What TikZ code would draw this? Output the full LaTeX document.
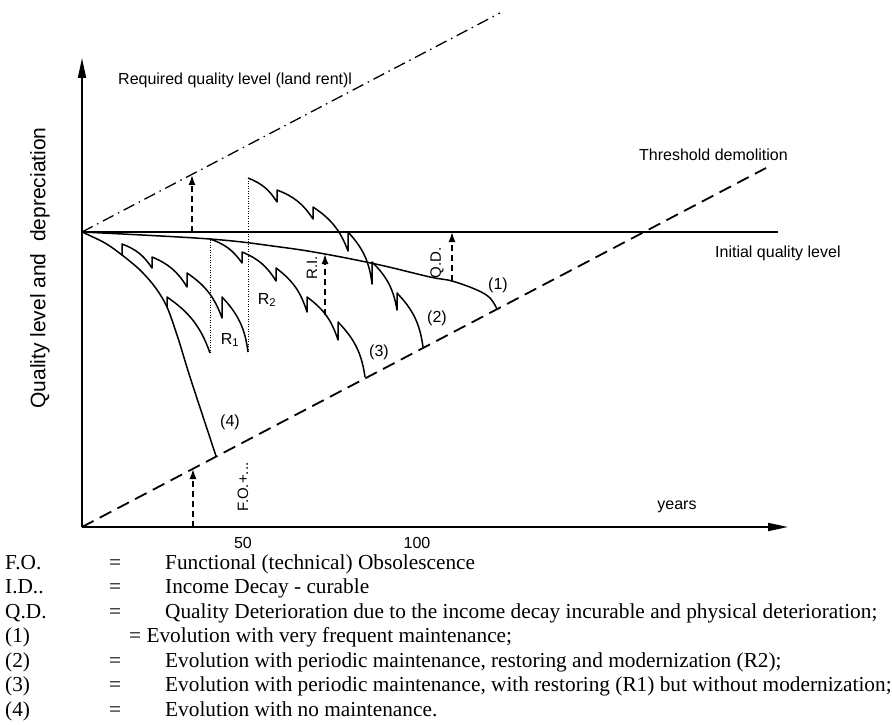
\documentclass[tikz,border=0pt]{standalone}
\usepackage{fontspec}
\setmainfont{Liberation Serif}
\setsansfont{Liberation Sans}
\usetikzlibrary{arrows.meta}

\begin{document}
\begin{tikzpicture}[
    x=1pt, y=1pt,
    font=\sffamily\fontsize{16}{18}\selectfont,
    >={Latex[length=10pt,width=7pt]},
    axis/.style={
        line width=1.8pt,
        -{Triangle[length=20pt,width=8pt]}
    },
    curve/.style={
        line width=1.5pt,
        line join=round
    },
    saw/.style={bend left=18},
    level/.style={line width=1.4pt},
    threshold/.style={
        line width=1.8pt,
        dash pattern=on 13pt off 7pt
    },
    required/.style={
        line width=1.3pt,
        dash pattern=on 12pt off 5pt on 1.5pt off 5pt
    },
    gap/.style={
        ->,
        line width=1.5pt,
        dash pattern=on 6pt off 4pt
    },
    restore/.style={
        line width=0.9pt,
        dash pattern=on 1pt off 1.5pt
    },
    small/.style={font=\sffamily\fontsize{15}{15}\selectfont},
    legend/.style={
        font=\rmfamily\fontsize{21.3}{24}\selectfont,
        anchor=base west,
        inner sep=0pt
    }
]
\useasboundingbox (-82,-197) rectangle (810,527);

% =========================================================
% axes and reference lines
% =========================================================
\coordinate (O) at (0,0);
\coordinate (Q0) at (0,295);
\draw[axis] (O) -- (0,469) coordinate (ytop);
\draw[axis] (O) -- (706,0) coordinate (xend);

\draw[level] (Q0) -- (696,295) coordinate (qend);
\draw[required] (Q0) -- (418,514) coordinate (reqend);
\draw[threshold] (O) -- (684,359) coordinate (thrend);

\node[anchor=west, inner sep=0pt] (reqlbl) at (36,447) {Required quality level (land rent)l};
\node[anchor=west, inner sep=0pt] (thrlbl) at (557,372) {Threshold demolition};
\node[anchor=west, inner sep=0pt] (inilbl) at (633,274) {Initial quality level};

\node[font=\sffamily\fontsize{21}{21}\selectfont, rotate=90] (ylbl) at (-42,259) {Quality level and \ depreciation};
\node (years) at (595,20) {years};
\node[inner sep=0pt] (t50) at (161,-16) {50};
\node[inner sep=0pt] (t100) at (335,-16) {100};

% =========================================================
% evolution curves
% =========================================================
% (1) very frequent maintenance
\draw[curve] plot[smooth, tension=0.6] coordinates {(0,295) (128,288) (198,280) (243,273) (298,262) (348,250) (370,246) (395,237) (408,229) (415,218)};

% (4) no maintenance
\draw[curve] plot[smooth] coordinates {(0,295) (23,284) (40,272) (58,257) (73,240) (85,220) (96,189) (108,150) (134,71)};

% (2) periodic maintenance, restoring R2 with modernization
\draw[curve] (40,272) -- (40,283) to[saw] (70,259) -- (70,270) to[saw] (105,240)
    -- (105,254) to[saw] (140,209) -- (140,230) to[saw] (166,175) coordinate (r2low);
\draw[restore] (r2low) -- (166,349) coordinate (r2top);
\draw[curve] (r2top) to[saw] (195,325) -- (195,337) to[saw] (231,308) -- (231,320) to[saw] (266,276)
    -- (266,295) to[saw] (290,243) -- (290,265) to[saw] (315,217) -- (315,234) to[saw] (341,180);

% (3) periodic maintenance, restoring R1 without modernization
\draw[curve] (85,220) -- (85,230) to[saw] (128,174) coordinate (r1low);
\draw[restore] (r1low) -- (128,288) coordinate (r1top);
\draw[curve] (r1top) to[saw] (160,264) -- (160,275) to[saw] (194,246) -- (194,259) to[saw] (225,215)
    -- (225,230) to[saw] (256,187) -- (256,205) to[saw] (283,150);

% gaps between levels
\draw[gap] (110,295) -- (110,352);
\draw[gap] (111,0) -- (111,58);
\draw[gap] (243,212) -- (243,273);
\draw[gap] (370,246) -- (370,295);

% curve labels
\node (lr1) at (148,187) {R\textsubscript{1}};
\node (lr2) at (185,227) {R\textsubscript{2}};
\node (l1) at (416,242) {(1)};
\node (l2) at (355,209) {(2)};
\node (l3) at (297,175) {(3)};
\node (l4) at (148,105) {(4)};
\node[small, rotate=90] (lqd) at (355,264) {Q.D.};
\node[small, rotate=90] (lri) at (230,259) {R.I.};
\node[small, rotate=90] (lfo) at (161,40) {F.O.+...};

% =========================================================
% legend
% =========================================================
\node[legend] (k1) at (-77,-42) {F.O.};
\node[legend] (e1) at (27,-42) {=};
\node[legend] (d1) at (83,-42) {Functional (technical) Obsolescence};

\node[legend] (k2) at (-77,-66.5) {I.D..};
\node[legend] (e2) at (27,-66.5) {=};
\node[legend] (d2) at (83,-66.5) {Income Decay - curable};

\node[legend] (k3) at (-77,-91) {Q.D.};
\node[legend] (e3) at (27,-91) {=};
\node[legend] (d3) at (83,-91) {Quality Deterioration due to the income decay incurable and physical deterioration;};

\node[legend] (k4) at (-77,-115.5) {(1)};
\node[legend] (d4) at (47,-115.5) {= Evolution with very frequent maintenance;};

\node[legend] (k5) at (-77,-140) {(2)};
\node[legend] (e5) at (27,-140) {=};
\node[legend] (d5) at (83,-140) {Evolution with periodic maintenance, restoring and modernization (R2);};

\node[legend] (k6) at (-77,-164.5) {(3)};
\node[legend] (e6) at (27,-164.5) {=};
\node[legend] (d6) at (83,-164.5) {Evolution with periodic maintenance, with restoring (R1) but without modernization;};

\node[legend] (k7) at (-77,-189) {(4)};
\node[legend] (e7) at (27,-189) {=};
\node[legend] (d7) at (83,-189) {Evolution with no maintenance.};

\end{tikzpicture}
\end{document}
